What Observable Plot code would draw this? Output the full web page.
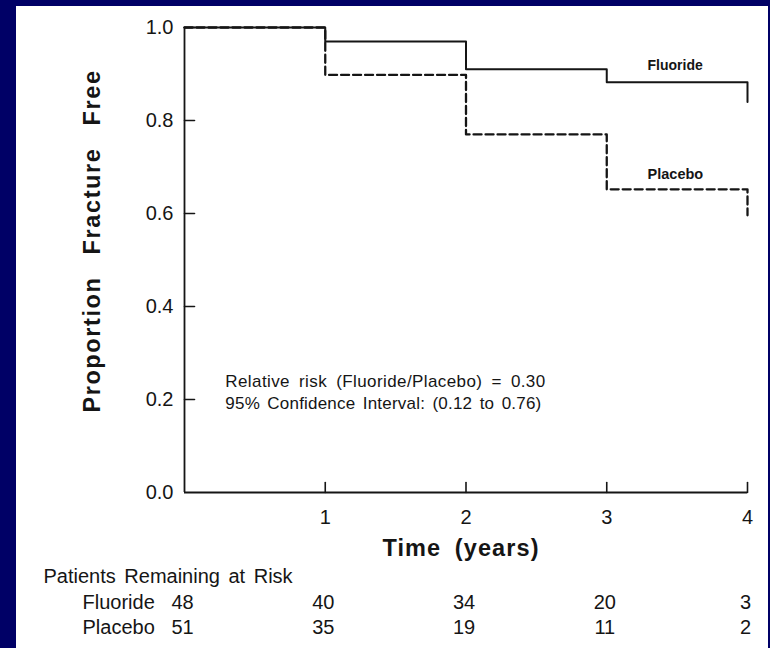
<!DOCTYPE html>
<html>
<head>
<meta charset="utf-8">
<script src="https://cdn.jsdelivr.net/npm/d3@7"></script>
<script src="https://cdn.jsdelivr.net/npm/@observablehq/plot@0.6"></script>
<style>
  html, body { margin: 0; padding: 0; background: #000066; width: 770px; height: 648px; overflow: hidden; }
  #panel { position: absolute; left: 16px; top: 6px; width: 752px; height: 642px; background: #ffffff; }
</style>
</head>
<body>
<div id="panel"></div>
<script>
// ---- data ----
const times = [0, 1, 2, 3, 4];
const fluorideSurvival = [1.0, 0.970, 0.910, 0.882, 0.840];
const placeboSurvival = [1.0, 0.898, 0.770, 0.652, 0.596];
const seriesNames = ["Fluoride", "Placebo"];
const xTickValues = [1, 2, 3, 4];
const yTickValues = [0, 0.2, 0.4, 0.6, 0.8, 1.0];
const riskTimes = [0, 1, 2, 3, 4];
const fluorideAtRisk = [48, 40, 34, 20, 3];
const placeboAtRisk = [51, 35, 19, 11, 2];
const annotationLines = ["Relative risk (Fluoride/Placebo) = 0.30", "95% Confidence Interval: (0.12 to 0.76)"];
const yTitle = "Proportion Fracture Free";
const xTitle = "Time (years)";
const riskTitle = "Patients Remaining at Risk";

const fluoride = times.map((t, i) => ({t, s: fluorideSurvival[i]}));
const placebo = times.map((t, i) => ({t, s: placeboSurvival[i]}));
const ink = "#151515";
const tickShape = {draw(ctx, l) { ctx.moveTo(0, 0); ctx.lineTo(0, -l); }};

const chart = Plot.plot({
  width: 752,
  height: 642,
  marginLeft: 168,
  marginRight: 21,
  marginTop: 21,
  marginBottom: 156,
  style: {fontFamily: "'Liberation Sans', Arial, sans-serif", fontSize: "20px", background: "#ffffff", color: ink, overflow: "visible"},
  x: {domain: [0, 4]},
  y: {domain: [0, 1]},
  marks: [
    Plot.axisY({ticks: yTickValues, tickFormat: d3.format(".1f"), tickSize: 0, tickPadding: 11, label: null, fontSize: 20}),
    Plot.axisX({ticks: xTickValues, tickFormat: d3.format("d"), tickSize: 0, tickPadding: 17, label: null, fontSize: 20}),
    Plot.vector(xTickValues, {x: d => d, y: 0, length: 10, anchor: "start", shape: tickShape, stroke: ink, strokeWidth: 1.6}),
    Plot.vector(yTickValues.slice(1), {x: 0, y: d => d, length: 10, rotate: 90, anchor: "start", shape: tickShape, stroke: ink, strokeWidth: 1.6}),
    Plot.ruleY([0], {stroke: ink, strokeWidth: 1.8}),
    Plot.ruleX([0], {stroke: ink, strokeWidth: 1.8}),
    Plot.line(placebo, {x: "t", y: "s", curve: "step-after", stroke: ink, strokeWidth: 2.3, strokeDasharray: "8,4"}),
    Plot.line(fluoride, {x: "t", y: "s", curve: "step-after", stroke: ink, strokeWidth: 2}),
    Plot.text([seriesNames[0]], {x: 3.29, y: 0.918, text: d => d, textAnchor: "start", fontSize: 14, fontWeight: "bold", fill: ink}),
    Plot.text([seriesNames[1]], {x: 3.29, y: 0.685, text: d => d, textAnchor: "start", fontSize: 14.5, fontWeight: "bold", fill: ink}),
    Plot.text([annotationLines[0]], {x: 0.29, y: 0.239, text: d => d, textAnchor: "start", fontSize: 17, fill: ink}),
    Plot.text([annotationLines[1]], {x: 0.29, y: 0.191, text: d => d, textAnchor: "start", fontSize: 17, fill: ink}),
    Plot.text([yTitle], {frameAnchor: "left", dx: -92, dy: -19, rotate: -90, textAnchor: "middle", lineAnchor: "middle", text: d => d, fontSize: 23.5, fontWeight: "bold", fill: ink}),
    Plot.text([xTitle], {frameAnchor: "bottom", dx: -5, dy: 56, lineAnchor: "middle", text: d => d, fontSize: 23.5, fontWeight: "bold", fill: ink}),
    Plot.text([riskTitle], {frameAnchor: "bottom-left", dx: -141, dy: 84, lineAnchor: "middle", text: d => d, textAnchor: "start", fontSize: 20, fill: ink}),
    Plot.text([seriesNames[0]], {frameAnchor: "bottom-left", dx: -102, dy: 110, lineAnchor: "middle", text: d => d, textAnchor: "start", fontSize: 20, fill: ink}),
    Plot.text([seriesNames[1]], {frameAnchor: "bottom-left", dx: -102, dy: 135, lineAnchor: "middle", text: d => d, textAnchor: "start", fontSize: 20, fill: ink}),
    Plot.text(riskTimes, {x: d => d, frameAnchor: "bottom", dy: 110, dx: -2, lineAnchor: "middle", text: (d, i) => String(fluorideAtRisk[i]), fontSize: 20, fill: ink}),
    Plot.text(riskTimes, {x: d => d, frameAnchor: "bottom", dy: 135, dx: -2, lineAnchor: "middle", text: (d, i) => String(placeboAtRisk[i]), fontSize: 20, fill: ink})
  ]
});
document.getElementById("panel").appendChild(chart);
// letter / word spacing to mimic the typeset original
chart.querySelectorAll("text").forEach(t => {
  const s = t.textContent;
  if (s === yTitle) { t.style.letterSpacing = "1.6px"; t.style.wordSpacing = "14px"; }
  if (s === xTitle) { t.style.letterSpacing = "1.1px"; t.style.wordSpacing = "6px"; }
  if (s === riskTitle) { t.style.wordSpacing = "3px"; }
  if (s === annotationLines[0]) { t.style.letterSpacing = "0.4px"; t.style.wordSpacing = "4px"; }
  if (s === annotationLines[1]) { t.style.letterSpacing = "0.2px"; t.style.wordSpacing = "2.5px"; }
});
</script>
</body>
</html>
